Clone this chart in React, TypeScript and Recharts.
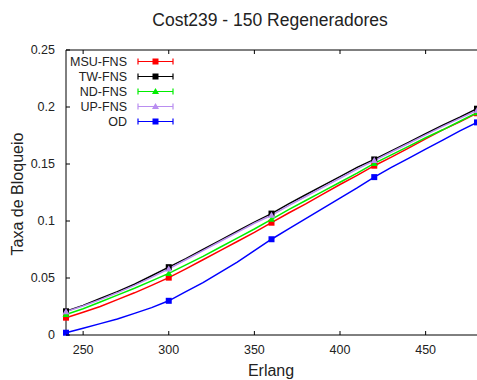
import React from "react";
import { LineChart, Line, XAxis, YAxis } from "recharts";

const erlang = [
  240, 250, 260, 270, 280, 290, 300, 310, 320, 330, 340, 350, 360, 370, 380,
  390, 400, 410, 420, 430, 440, 450, 460, 470, 480,
];

const msuFns = [
  0.0152, 0.02, 0.025, 0.031, 0.037, 0.0435, 0.0503, 0.058, 0.066, 0.074,
  0.082, 0.09, 0.0985, 0.107, 0.115, 0.1235, 0.132, 0.14, 0.1485, 0.156,
  0.164, 0.172, 0.18, 0.187, 0.1945,
];
const twFns = [
  0.0208, 0.026, 0.032, 0.038, 0.0445, 0.052, 0.0595, 0.067, 0.075, 0.083,
  0.091, 0.099, 0.1065, 0.115, 0.123, 0.131, 0.139, 0.147, 0.154, 0.1615,
  0.169, 0.1765, 0.184, 0.191, 0.1985,
];
const ndFns = [
  0.018, 0.023, 0.029, 0.035, 0.041, 0.0475, 0.054, 0.0615, 0.069, 0.077,
  0.085, 0.093, 0.1015, 0.11, 0.118, 0.126, 0.134, 0.142, 0.1505, 0.158,
  0.1655, 0.173, 0.18, 0.1875, 0.195,
];
const upFns = [
  0.0205, 0.0255, 0.031, 0.037, 0.0435, 0.0505, 0.058, 0.066, 0.074, 0.082,
  0.09, 0.098, 0.105, 0.1135, 0.1215, 0.1295, 0.1375, 0.1455, 0.153, 0.1605,
  0.168, 0.1755, 0.183, 0.19, 0.197,
];
const od = [
  0.002, 0.006, 0.01, 0.014, 0.019, 0.024, 0.03, 0.038, 0.046, 0.055, 0.064,
  0.074, 0.084, 0.093, 0.102, 0.111, 0.12, 0.129, 0.1385, 0.147, 0.155,
  0.163, 0.171, 0.179, 0.1865,
];

// erlang values where gnuplot drew a point symbol
const markerErlang = [240, 300, 360, 420, 480];

const xTicks = [250, 300, 350, 400, 450];
const yTicks = [0, 0.05, 0.1, 0.15, 0.2, 0.25];

const series = [
  { key: "msu", name: "MSU-FNS", color: "#ff0000", shape: "square", values: msuFns },
  { key: "tw", name: "TW-FNS", color: "#000000", shape: "square", values: twFns },
  { key: "nd", name: "ND-FNS", color: "#00ee00", shape: "triangle", values: ndFns },
  { key: "up", name: "UP-FNS", color: "#b98ef0", shape: "triangle", values: upFns },
  { key: "od", name: "OD", color: "#0000ff", shape: "square", values: od },
];

const data = erlang.map((e, i) => {
  const row: any = { erlang: e };
  series.forEach((s) => (row[s.key] = s.values[i]));
  return row;
});

const FONT = '"Liberation Sans", Arial, sans-serif';
const TICK_LEN = 4;

const Marker = ({ cx, cy, shape, color }: any) => {
  if (shape === "triangle") {
    return (
      <polygon
        points={`${cx},${cy - 3.5} ${cx - 3.5},${cy + 2.5} ${cx + 3.5},${cy + 2.5}`}
        fill={color}
      />
    );
  }
  return <rect x={cx - 3} y={cy - 3} width={6} height={6} fill={color} />;
};

const renderDot = (s: any) => (props: any) => {
  const { cx, cy, payload, index } = props;
  if (!markerErlang.includes(payload.erlang) || cx == null || cy == null) {
    return <g key={`${s.key}-${index}`} />;
  }
  return (
    <g key={`${s.key}-${index}`}>
      <Marker cx={cx} cy={cy} shape={s.shape} color={s.color} />
    </g>
  );
};

const BottomTick = ({ x, y, payload }: any) => (
  <g>
    <line x1={x} x2={x} y1={y - 10} y2={y - 10 - TICK_LEN} stroke="#000" />
    <text x={x} y={y} dy="0.71em" textAnchor="middle" fontSize={12.5} fontFamily={FONT} fill="#222">
      {payload.value}
    </text>
  </g>
);

const LeftTick = ({ x, y, payload }: any) => (
  <g>
    <line x1={x + 11} x2={x + 11 + TICK_LEN} y1={y} y2={y} stroke="#000" />
    <text x={x} y={y} dy="0.35em" textAnchor="end" fontSize={12.5} fontFamily={FONT} fill="#222">
      {String(payload.value)}
    </text>
  </g>
);

const TopTick = ({ x, y }: any) => (
  <line x1={x} x2={x} y1={y} y2={y + TICK_LEN} stroke="#000" />
);

const RightTick = ({ x, y }: any) => (
  <line x1={x} x2={x - TICK_LEN} y1={y} y2={y} stroke="#888" />
);

const Overlay = () => (
  <svg
    width={477}
    height={380}
    style={{ position: "absolute", left: 0, top: 0, pointerEvents: "none" }}
  >
    <text x={270} y={25.5} textAnchor="middle" fontSize={17.5} fontFamily={FONT} fill="#222">
      Cost239 - 150 Regeneradores
    </text>
    <text x={271} y={376} textAnchor="middle" fontSize={16} fontFamily={FONT} fill="#222">
      Erlang
    </text>
    <text
      x={22.5}
      y={194}
      transform="rotate(-90 22.5 194)"
      textAnchor="middle"
      fontSize={16}
      fontFamily={FONT}
      fill="#222"
    >
      Taxa de Bloqueio
    </text>
    {series.map((s, i) => {
      const cy = 61.5 + i * 15;
      return (
        <g key={s.key}>
          <text x={127} y={cy + 4.5} textAnchor="end" fontSize={12.5} fontFamily={FONT} fill="#222">
            {s.name}
          </text>
          <line x1={138} x2={173} y1={cy} y2={cy} stroke={s.color} strokeWidth={1.2} />
          <line x1={138} x2={138} y1={cy - 3} y2={cy + 3} stroke={s.color} strokeWidth={1.2} />
          <line x1={173} x2={173} y1={cy - 3} y2={cy + 3} stroke={s.color} strokeWidth={1.2} />
          <Marker cx={155.5} cy={cy} shape={s.shape} color={s.color} />
        </g>
      );
    })}
  </svg>
);

export default function App() {
  return (
    <div style={{ position: "absolute", left: 0, top: 0, width: 477, height: 380, background: "#fff" }}>
      <LineChart
        width={477}
        height={380}
        data={data}
        margin={{ top: 49, right: -1, bottom: 44, left: 65 }}
      >
        <XAxis
          dataKey="erlang"
          type="number"
          domain={[240, 480]}
          ticks={xTicks}
          height={1}
          tickSize={0}
          tickMargin={10}
          tick={<BottomTick />}
          axisLine={{ stroke: "#000" }}
        />
        <XAxis
          xAxisId="top"
          orientation="top"
          dataKey="erlang"
          type="number"
          domain={[240, 480]}
          ticks={xTicks}
          height={1}
          tickSize={0}
          tickMargin={0}
          tick={<TopTick />}
          axisLine={{ stroke: "#000" }}
        />
        <YAxis
          type="number"
          domain={[0, 0.25]}
          ticks={yTicks}
          width={1}
          tickSize={0}
          tickMargin={11}
          tick={<LeftTick />}
          axisLine={{ stroke: "#000" }}
        />
        <YAxis
          yAxisId="right"
          orientation="right"
          type="number"
          domain={[0, 0.25]}
          ticks={yTicks}
          width={1}
          tickSize={0}
          tickMargin={0}
          tick={<RightTick />}
          axisLine={false}
        />
        {series.map((s) => (
          <Line
            key={s.key}
            dataKey={s.key}
            name={s.name}
            stroke={s.color}
            strokeWidth={1.5}
            dot={renderDot(s)}
            activeDot={false}
            isAnimationActive={false}
          />
        ))}
      </LineChart>
      <Overlay />
    </div>
  );
}
